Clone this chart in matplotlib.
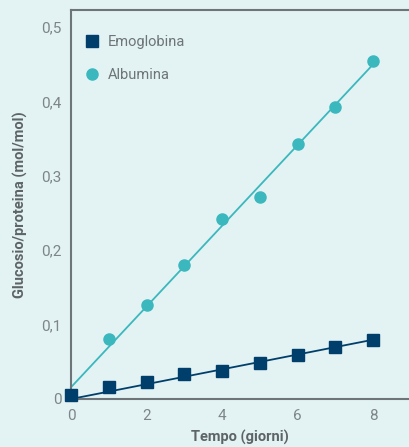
import matplotlib.pyplot as plt
import numpy as np

giorni = [0, 1, 2, 3, 4, 5, 6, 7, 8]
emoglobina = [0.006, 0.016, 0.023, 0.034, 0.038, 0.048, 0.059, 0.070, 0.079]
giorni_alb = [0, 1, 2, 3, 4, 5, 6, 7, 8]
albumina = [0.005, 0.081, 0.126, 0.180, 0.242, 0.272, 0.343, 0.392, 0.454]

bg = "#e3f2f3"
navy = "#003f6b"
teal = "#3bb8be"
grey = "#6d7578"

plt.rcParams['font.family'] = ['Roboto', 'DejaVu Sans']

fig = plt.figure(figsize=(4.09, 4.47), dpi=100, facecolor=bg)
ax = fig.add_axes([71 / 409, 48 / 447, 338 / 409, 389 / 447], facecolor=bg)

# regression lines (emoglobina through origin)
xs = np.array([0, 8])
x1 = np.array(giorni)
slope1 = np.sum(x1 * np.array(emoglobina)) / np.sum(x1 ** 2)
k2 = np.polyfit(giorni_alb, albumina, 1)
ax.plot(xs, slope1 * xs, color=navy, lw=1.3, clip_on=False)
ax.plot(xs, np.polyval(k2, xs), color=teal, lw=1.3, clip_on=False)

ax.plot(giorni_alb[1:], albumina[1:], 'o', color=teal, ms=8, label="Albumina", clip_on=False, zorder=3)
ax.plot(giorni, emoglobina, 's', color=navy, ms=8, label="Emoglobina", clip_on=False, zorder=4)

ax.set_xlim(0, 338 / 37.75)
ax.set_ylim(0, 0.523)
ax.set_xticks([0, 2, 4, 6, 8])
ax.set_yticks([0, 0.1, 0.2, 0.3, 0.4, 0.5])
ax.set_yticklabels(["0", "0,1", "0,2", "0,3", "0,4", "0,5"])

for s in ['left', 'bottom', 'top']:
    ax.spines[s].set_color(grey)
    ax.spines[s].set_linewidth(1.5)
ax.spines['right'].set_visible(False)
ax.tick_params(length=0, labelsize=11, colors="#7d8588", pad=7)

ax.set_xlabel("Tempo (giorni)", fontsize=10.5, fontweight='bold', color="#5d6467", labelpad=5)
ax.set_ylabel("Glucosio/proteina (mol/mol)", fontsize=10.5, fontweight='bold', color="#5d6467", labelpad=9)

h, l = ax.get_legend_handles_labels()
leg = ax.legend(h[::-1], l[::-1], loc='upper left', frameon=False, fontsize=10.5, handletextpad=0.5,
                labelspacing=1.3, borderaxespad=0.9, handlelength=1.2, bbox_to_anchor=(-0.02, 0.985))
for t in leg.get_texts():
    t.set_color(grey)

fig.savefig("out.png", dpi=100, facecolor=bg)
